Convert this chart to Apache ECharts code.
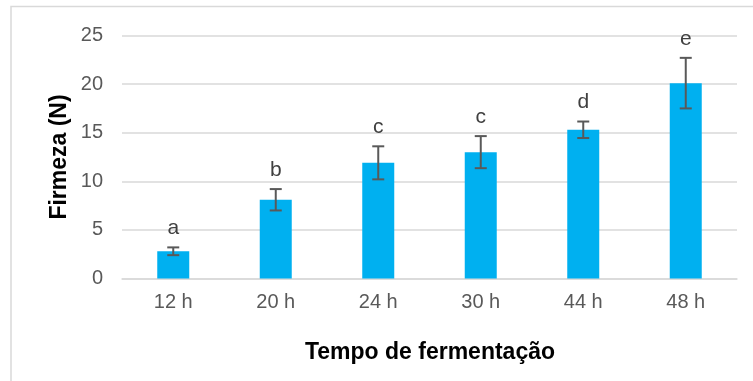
<!DOCTYPE html>
<html>
<head>
<meta charset="utf-8">
<script src="https://cdn.jsdelivr.net/npm/echarts@6/dist/echarts.min.js"></script>
<style>
  html, body { margin: 0; padding: 0; background: #ffffff; }
  #chart { width: 753px; height: 381px; }
</style>
</head>
<body>
<div id="chart"></div>
<script>
// Firmness by fermentation time, with standard deviation and significance letters
const categories = ['12 h', '20 h', '24 h', '30 h', '44 h', '48 h'];
const firmness = [2.8, 8.1, 11.9, 13.0, 15.3, 20.1];
const deviation = [0.4, 1.1, 1.7, 1.65, 0.85, 2.6];
const letters = ['a', 'b', 'c', 'c', 'd', 'e'];
const yTicks = [0, 5, 10, 15, 20, 25];

const FONT = '"Liberation Sans", Arial, sans-serif';

const errorData = categories.map((c, i) => [i, firmness[i] - deviation[i], firmness[i] + deviation[i], letters[i]]);

const chart = echarts.init(document.getElementById('chart'), null, { renderer: 'canvas' });

chart.setOption({
  animation: false,
  backgroundColor: '#ffffff',
  grid: { left: 122, right: 16, top: 35.5, bottom: 102.5 },
  xAxis: {
    type: 'category',
    data: categories,
    axisLine: { show: true, lineStyle: { color: '#d9d9d9', width: 1.5 } },
    axisTick: { show: false },
    axisLabel: { color: '#595959', fontSize: 20, fontFamily: FONT, margin: 14 }
  },
  yAxis: {
    type: 'value',
    min: yTicks[0],
    max: yTicks[yTicks.length - 1],
    interval: 5,
    axisLine: { show: false },
    axisTick: { show: false },
    splitLine: { lineStyle: { color: '#d9d9d9', width: 1.5 } },
    axisLabel: { color: '#595959', fontSize: 20, fontFamily: FONT, margin: 19 }
  },
  graphic: [
    {
      type: 'rect',
      shape: { x: 11, y: 6.5, width: 800, height: 420 },
      style: { fill: 'none', stroke: '#d9d9d9', lineWidth: 1.5 },
      silent: true
    },
    {
      type: 'text',
      x: 60, y: 157,
      rotation: Math.PI / 2,
      style: {
        text: 'Firmeza (N)', fill: '#000000',
        font: 'bold 23px ' + FONT,
        align: 'center', verticalAlign: 'middle'
      }
    },
    {
      type: 'text',
      x: 430, y: 353,
      style: {
        text: 'Tempo de fermentação', fill: '#000000',
        font: 'bold 23px ' + FONT,
        align: 'center', verticalAlign: 'middle'
      }
    }
  ],
  series: [
    {
      type: 'bar',
      data: firmness,
      barWidth: 32,
      itemStyle: { color: '#00b0f0' },
      z: 2
    },
    {
      type: 'custom',
      data: errorData,
      z: 3,
      renderItem: function (params, api) {
        const idx = api.value(0);
        const lo = api.coord([idx, api.value(1)]);
        const hi = api.coord([idx, api.value(2)]);
        const half = 6;
        const st = { stroke: '#595959', lineWidth: 2, fill: 'none' };
        return {
          type: 'group',
          children: [
            { type: 'line', shape: { x1: hi[0], y1: hi[1], x2: lo[0], y2: lo[1] }, style: st },
            { type: 'line', shape: { x1: hi[0] - half, y1: hi[1], x2: hi[0] + half, y2: hi[1] }, style: st },
            { type: 'line', shape: { x1: lo[0] - half, y1: lo[1], x2: lo[0] + half, y2: lo[1] }, style: st },
            {
              type: 'text',
              style: {
                text: api.value(3),
                x: hi[0], y: hi[1] - 19,
                align: 'center', verticalAlign: 'middle',
                font: '21px ' + FONT, fill: '#404040'
              }
            }
          ]
        };
      }
    }
  ]
});
</script>
</body>
</html>
